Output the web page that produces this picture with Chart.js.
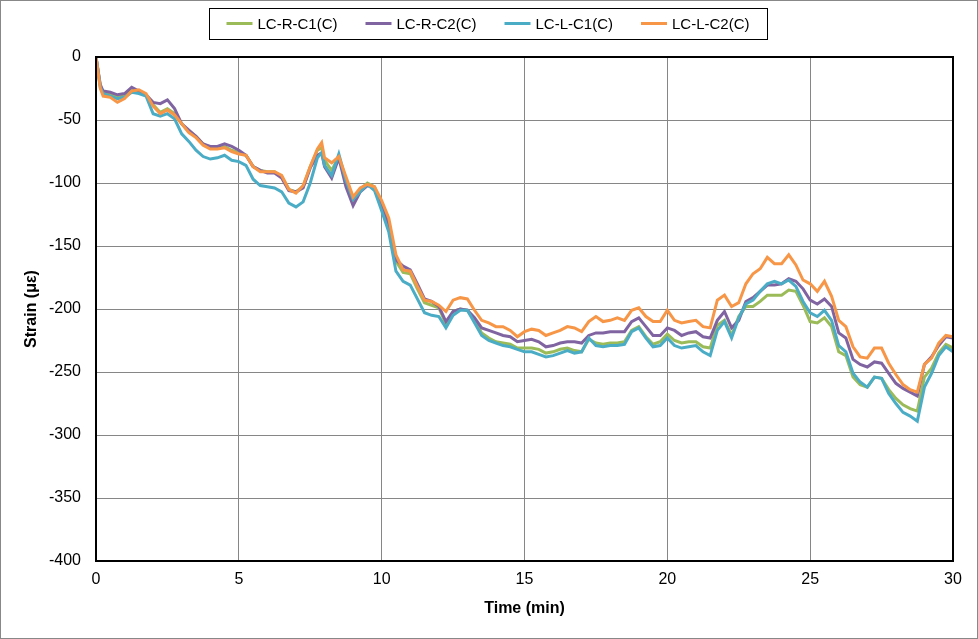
<!DOCTYPE html>
<html>
<head>
<meta charset="utf-8">
<script src="https://cdn.jsdelivr.net/npm/chart.js@4/dist/chart.umd.min.js"></script>
<style>
  body { margin: 0; background: #fff; }
  #wrap { width: 978px; height: 639px; }
</style>
</head>
<body>
<div id="wrap"><canvas id="strainChart" width="978" height="639"></canvas></div>
<script>
// time (min)
const timeMin = [0, 0.15, 0.25, 0.5, 0.75, 1, 1.25, 1.5, 1.75, 2, 2.25, 2.5, 2.75, 3, 3.25, 3.5, 3.75, 4, 4.25, 4.5, 4.75,
    5, 5.25, 5.5, 5.75, 6, 6.25, 6.5, 6.75, 7, 7.25, 7.5, 7.75, 7.9, 8, 8.25, 8.5, 8.75, 9, 9.25, 9.5, 9.75,
    10, 10.25, 10.5, 10.75, 11, 11.25, 11.5, 11.75, 12, 12.25, 12.5, 12.75, 13, 13.25, 13.5, 13.75, 14, 14.25, 14.5, 14.75,
    15, 15.25, 15.5, 15.75, 16, 16.25, 16.5, 16.75, 17, 17.25, 17.5, 17.75, 18, 18.25, 18.5, 18.75, 19, 19.25, 19.5, 19.75,
    20, 20.25, 20.5, 20.75, 21, 21.25, 21.5, 21.75, 22, 22.25, 22.5, 22.75, 23, 23.25, 23.5, 23.75, 24, 24.25, 24.5, 24.75,
    25, 25.25, 25.5, 25.75, 26, 26.25, 26.5, 26.75, 27, 27.25, 27.5, 27.75, 28, 28.25, 28.5, 28.75, 29, 29.25, 29.5, 29.75, 30];

// strain (με)
const lcRC1 = [0, -23, -29, -30, -32, -31, -26, -27, -30, -38, -44, -41, -45, -53, -59, -63, -69, -72, -72, -71, -74,
    -76, -78, -87, -90, -91, -91, -95, -105, -107, -103, -87, -74, -72, -82, -90, -79, -99, -114, -105, -100, -103,
    -117, -131, -162, -171, -172, -184, -195, -197, -199, -212, -202, -200, -201, -209, -219, -223, -226, -227, -228, -231,
    -231, -231, -232, -235, -234, -232, -231, -233, -234, -224, -227, -228, -227, -227, -226, -217, -214, -222, -228, -226,
    -220, -225, -227, -226, -226, -230, -231, -213, -209, -221, -206, -198, -198, -194, -189, -189, -189, -185, -186, -197,
    -210, -211, -207, -214, -234, -237, -254, -260, -262, -254, -255, -264, -271, -276, -279, -281, -254, -247, -235, -228, -231];

const lcRC2 = [0, -22, -27, -28, -30, -29, -24, -27, -30, -36, -37, -34, -41, -53, -58, -63, -69, -71, -71, -69, -71,
    -74, -78, -87, -90, -92, -92, -96, -106, -107, -104, -88, -78, -76, -87, -96, -80, -103, -118, -107, -102, -104,
    -118, -133, -161, -166, -169, -180, -192, -194, -198, -210, -202, -200, -201, -207, -215, -217, -219, -221, -222, -226,
    -225, -224, -226, -230, -229, -227, -226, -226, -227, -221, -219, -219, -218, -218, -218, -210, -207, -214, -221, -221,
    -215, -217, -221, -219, -218, -222, -223, -209, -202, -215, -209, -194, -191, -186, -181, -181, -180, -176, -178, -184,
    -193, -196, -192, -198, -219, -223, -240, -244, -246, -242, -243, -251, -259, -263, -266, -269, -244, -238, -229, -222, -223];

const lcLC1 = [0, -24, -29, -31, -33, -32, -28, -29, -31, -45, -47, -45, -49, -61, -67, -74, -79, -81, -80, -78, -82,
    -83, -86, -97, -102, -103, -104, -107, -116, -119, -115, -100, -80, -76, -86, -94, -77, -98, -113, -107, -101, -106,
    -122, -139, -170, -178, -181, -192, -203, -205, -206, -215, -205, -201, -201, -211, -221, -225, -227, -229, -230, -232,
    -234, -234, -236, -238, -237, -235, -233, -235, -234, -223, -229, -230, -229, -229, -228, -218, -215, -223, -230, -229,
    -223, -229, -231, -230, -229, -234, -237, -217, -210, -223, -207, -196, -193, -186, -180, -178, -180, -177, -182, -194,
    -203, -206, -201, -209, -229, -234, -251, -258, -262, -254, -255, -267, -275, -282, -285, -289, -262, -251, -237, -230, -234];

const lcLC2 = [0, -25, -31, -32, -36, -33, -27, -26, -29, -39, -45, -42, -46, -53, -60, -64, -70, -73, -73, -72, -75,
    -77, -78, -87, -91, -91, -91, -94, -105, -108, -102, -87, -73, -68, -80, -84, -79, -95, -111, -104, -101, -103,
    -114, -128, -157, -169, -170, -182, -193, -194, -197, -202, -193, -191, -192, -201, -209, -211, -214, -214, -217, -222,
    -218, -216, -217, -221, -219, -217, -214, -215, -218, -210, -206, -210, -209, -207, -209, -201, -199, -206, -210, -210,
    -201, -209, -211, -210, -209, -214, -215, -193, -189, -198, -195, -180, -172, -168, -159, -164, -164, -157, -165, -177,
    -180, -186, -178, -190, -209, -214, -230, -238, -239, -231, -231, -243, -252, -260, -264, -266, -244, -239, -227, -221, -222];

const seriesNames = ['LC-R-C1(C)', 'LC-R-C2(C)', 'LC-L-C1(C)', 'LC-L-C2(C)'];
const seriesColors = ['#9BBB59', '#8064A2', '#4BACC6', '#F79646'];
const seriesValues = [lcRC1, lcRC2, lcLC1, lcLC2];
const drawOrder = [4, 3, 2, 1]; // orange on top

// use the narrow face (closer to the original Calibri look) if it is installed
function hasFont(name) {
    const c = document.createElement('canvas').getContext('2d');
    c.font = "40px monospace";
    const a = c.measureText('LC-R-C1(C) 0123456789').width;
    c.font = "40px '" + name + "', monospace";
    const b = c.measureText('LC-R-C1(C) 0123456789').width;
    return Math.abs(a - b) > 1;
}
const narrow = hasFont('Liberation Sans Narrow');
const FONT = narrow ? "'Liberation Sans Narrow', 'Liberation Sans', sans-serif" : "'Liberation Sans', Arial, sans-serif";
const tickSize = narrow ? 19 : 16;
const titleSize = narrow ? 20 : 16;
const legendSize = narrow ? 19 : 15;

const datasets = seriesValues.map((vals, i) => ({
    label: seriesNames[i],
    data: vals.map((v, k) => ({ x: timeMin[k], y: v })),
    borderColor: seriesColors[i],
    backgroundColor: seriesColors[i],
    borderWidth: 3,
    pointRadius: 0,
    tension: 0,
    fill: false,
    order: drawOrder[i]
}));

// legend box + frames, drawn after the chart
const framePlugin = {
    id: 'framePlugin',
    afterDraw(chart) {
        const c = chart.ctx;
        const a = chart.chartArea;
        c.save();
        // plot area frame
        c.strokeStyle = '#000';
        c.lineWidth = 2;
        c.strokeRect(a.left, a.top, a.right - a.left, a.bottom - a.top);

        // legend
        c.font = legendSize + 'px ' + FONT;
        c.textBaseline = 'middle';
        const sample = 26, gapText = 5, gapItem = 28;
        const widths = seriesNames.map(n => c.measureText(n).width);
        let total = 0;
        widths.forEach((w, i) => { total += sample + gapText + w + (i < widths.length - 1 ? gapItem : 0); });
        const boxL = 209, boxR = 767, boxT = 8, boxB = 39;
        const cy = (boxT + boxB) / 2;
        let x = (boxL + boxR) / 2 - total / 2;
        c.lineWidth = 1;
        c.strokeStyle = '#000';
        c.strokeRect(boxL + 0.5, boxT + 0.5, boxR - boxL, boxB - boxT);
        chart.data.datasets.forEach((ds, i) => {
            c.strokeStyle = ds.borderColor;
            c.lineWidth = 3;
            c.beginPath();
            c.moveTo(x, cy);
            c.lineTo(x + sample, cy);
            c.stroke();
            x += sample + gapText;
            c.fillStyle = '#000';
            c.fillText(ds.label, x, cy + 1);
            x += widths[i] + gapItem;
        });

        // outer border
        c.strokeStyle = '#888';
        c.lineWidth = 1;
        c.strokeRect(0.5, 0.5, chart.width - 1, chart.height - 1);
        c.restore();
    }
};

const ctx = document.getElementById('strainChart');

new Chart(ctx, {
    type: 'line',
    data: { datasets: datasets },
    options: {
        responsive: false,
        animation: false,
        layout: { padding: { top: 57, right: 25, left: 0, bottom: 0 } },
        plugins: {
            legend: { display: false },
            tooltip: { enabled: false }
        },
        scales: {
            x: {
                type: 'linear',
                min: 0,
                max: 30,
                ticks: { stepSize: 5, color: '#000', padding: narrow ? 8 : 9, font: { family: FONT, size: tickSize } },
                grid: { color: '#868686', lineWidth: 1, drawTicks: false },
                border: { display: false },
                title: {
                    display: true,
                    text: 'Time (min)',
                    color: '#000',
                    font: { family: FONT, size: titleSize, weight: 'bold' },
                    padding: { top: 0, bottom: narrow ? 19 : 21 }
                },
                afterFit(scale) { scale.height = 78; }
            },
            y: {
                min: -400,
                max: 0,
                ticks: { stepSize: 50, color: '#000', padding: 15, font: { family: FONT, size: tickSize } },
                grid: { color: '#868686', lineWidth: 1, drawTicks: false },
                border: { display: false },
                title: {
                    display: true,
                    text: 'Strain (\u03bc\u03b5)',
                    color: '#000',
                    font: { family: FONT, size: titleSize, weight: 'bold' },
                    padding: { top: narrow ? 20 : 22, bottom: 0 }
                },
                afterFit(scale) { scale.width = 96; }
            }
        }
    },
    plugins: [framePlugin]
});
</script>
</body>
</html>
